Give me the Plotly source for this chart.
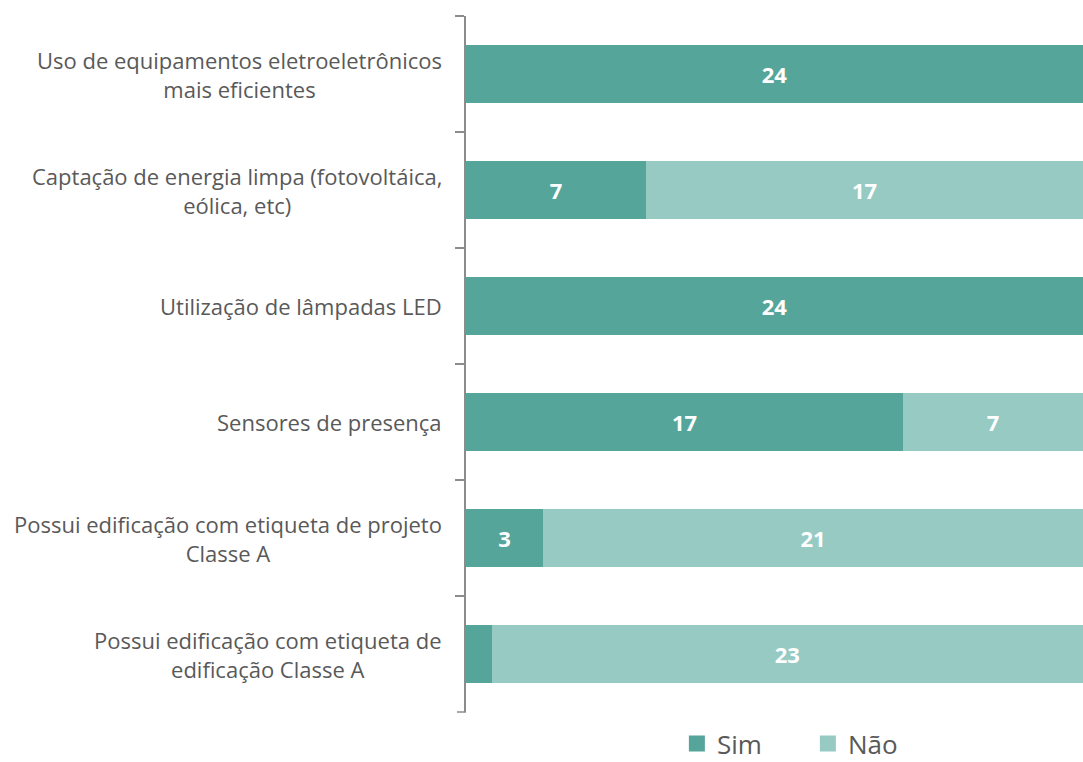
import plotly.graph_objects as go

# Survey answers per energy-efficiency measure
categories = [
    "Uso de equipamentos eletroeletrônicos<br>mais eficientes",
    "Captação de energia limpa (fotovoltáica,<br>eólica, etc)",
    "Utilização de lâmpadas LED",
    "Sensores de presença",
    "Possui edificação com etiqueta de projeto<br>Classe A",
    "Possui edificação com etiqueta de<br>edificação Classe A",
]
sim = [24, 7, 24, 17, 3, 1]
nao = [0, 17, 0, 7, 21, 23]
series_names = ["Sim", "Não"]

SIM_COLOR = "#55A59A"
NAO_COLOR = "#96CAC3"
TEXT_COLOR = "#595959"
AXIS_COLOR = "#8C8C8C"
FONT = "Open Sans"


def seg_labels(values):
    # segments too narrow to hold a number stay unlabelled
    return [str(v) if v >= 2 else "" for v in values]


fig = go.Figure()
for name, values, color in zip(series_names, [sim, nao], [SIM_COLOR, NAO_COLOR]):
    fig.add_trace(go.Bar(
        y=categories, x=values, name=name, orientation="h",
        marker=dict(color=color, line=dict(width=0)),
        text=seg_labels(values), textposition="inside", insidetextanchor="middle",
        textfont=dict(color="white", size=22, family=FONT),
        texttemplate="<b>%{text}</b>",
        showlegend=False,
    ))
    # square legend swatch for the series
    fig.add_trace(go.Scatter(
        x=[None], y=[None], mode="markers", name=name,
        marker=dict(symbol="square", size=16, color=color),
    ))

# Category labels drawn as centred multi-line annotations
for cat in categories:
    fig.add_annotation(
        x=0, xref="paper", y=cat, yref="y",
        text=cat, showarrow=False, xanchor="right", yanchor="middle",
        align="center", xshift=-22,
        font=dict(size=22, color=TEXT_COLOR, family=FONT),
    )

# closing tick at the bottom end of the category axis
fig.add_shape(
    type="line", xref="paper", yref="paper",
    xsizemode="pixel", xanchor=0, x0=-9, x1=0, y0=0, y1=0,
    line=dict(color=AXIS_COLOR, width=1.5),
)

fig.update_layout(
    barmode="stack",
    bargap=0.5,
    width=1083, height=762,
    margin=dict(l=466, r=0, t=16, b=50),
    paper_bgcolor="white", plot_bgcolor="white",
    font=dict(family=FONT, color=TEXT_COLOR),
    uniformtext=dict(mode="show", minsize=10),
    legend=dict(
        orientation="h", traceorder="normal", itemsizing="trace",
        xref="container", yref="container",
        x=0.625, xanchor="left", y=0.024, yanchor="middle",
        font=dict(size=26, color=TEXT_COLOR, family=FONT),
        itemwidth=30, entrywidth=86, tracegroupgap=0,
    ),
    xaxis=dict(range=[0, 24], visible=False, fixedrange=True),
    yaxis=dict(
        autorange="reversed", showticklabels=False,
        showline=True, linecolor=AXIS_COLOR, linewidth=1.5,
        ticks="outside", ticklen=9, tickcolor=AXIS_COLOR, tickwidth=1.5,
        tickson="boundaries", showgrid=False, zeroline=False,
    ),
)

fig.write_html("out.html")
